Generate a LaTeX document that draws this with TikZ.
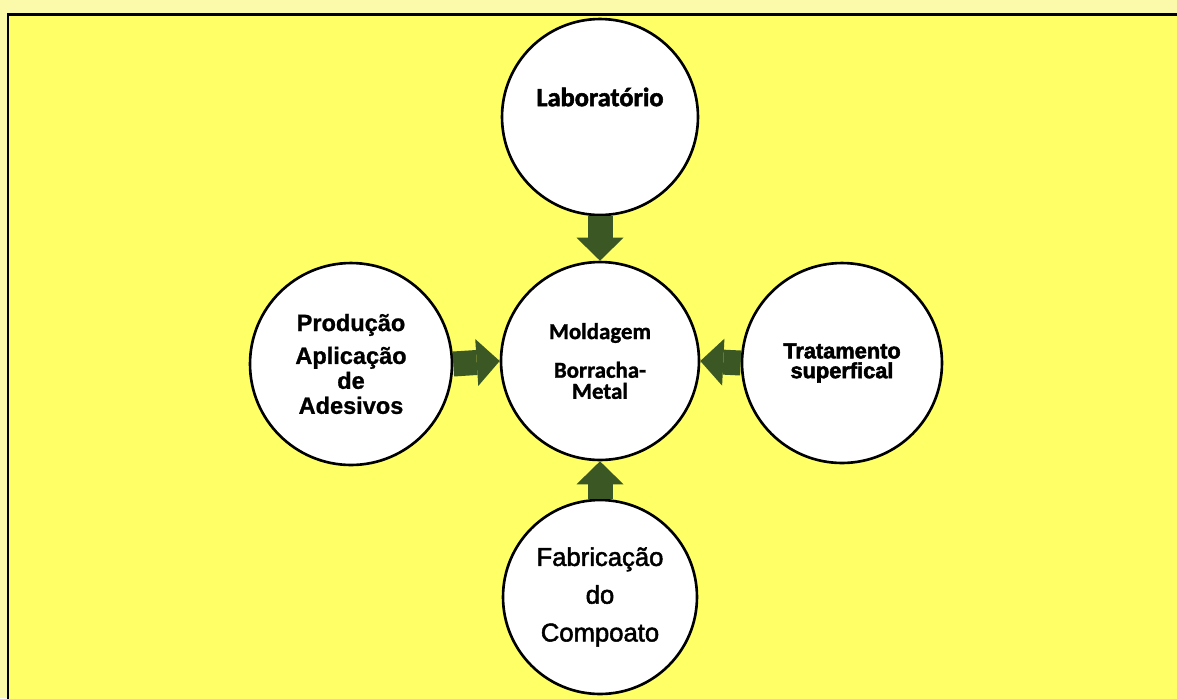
\documentclass[tikz,border=0pt]{standalone}
\usepackage{fontspec}
\setmainfont{Liberation Sans}
\newfontfamily\calibri{Carlito}[BoldFeatures={FakeBold=1.2}]
\newfontfamily\calibripesada{Carlito}[BoldFeatures={FakeBold=2}]
\newfontfamily\arialgrossa{Liberation Sans}[BoldFeatures={FakeBold=1}]
\newfontfamily\arialpesada{Liberation Sans}[BoldFeatures={FakeBold=2.4}]
\newfontfamily\arialmedia{Liberation Sans}[FakeBold=2]
\usetikzlibrary{arrows.meta}
\definecolor{fundo}{RGB}{255,255,102}
\definecolor{margem}{RGB}{250,250,170}
\definecolor{verde}{RGB}{59,87,36}
\begin{document}
\begin{tikzpicture}[x=0.02cm,y=-0.02cm,
        circulo/.style={circle,draw=black,line width=1.5pt,fill=white,inner sep=0pt,align=center},
        setagrossa/.style={draw=verde,line width=0.5cm,
            -{Triangle[width=0.94cm,length=0.46cm,line width=0pt,fill=verde]}}]
                \useasboundingbox (0,0) rectangle (1177,698);
                \fill[margem] (0,0) rectangle (1177,698);
                \filldraw[fill=fundo,draw=black,line width=1.4pt] (8,14.5) rectangle (1200,720);
                %===========================================
                \node[circulo,minimum size=3.92cm] (lab) at (600,117) {};
                \node[font=\calibripesada\bfseries\fontsize{15}{18}\selectfont] (labtxt) at ([yshift=0.4cm]lab.center) {Laborat\'orio};
                \node[circulo,minimum size=3.96cm,font=\calibri\bfseries\fontsize{13}{12}\selectfont] (mold) at (600,361)
                    {Moldagem\\[10pt]Borracha-\\Metal};
                \node[circulo,minimum size=4.04cm,font=\arialgrossa\bfseries\fontsize{13.4}{14.2}\selectfont] (prod) at (351,364)
                    {Produ\c{c}\~ao\\[4.5pt]Aplica\c{c}\~ao\\de\\Adesivos};
                \node[circulo,minimum size=4cm,font=\arialpesada\bfseries\fontsize{12.4}{11.3}\selectfont] (trat) at (842,363)
                    {Tratamento\\superfical};
                \node[circulo,minimum size=3.88cm,font=\arialmedia\fontsize{14.6}{21.5}\selectfont] (fab) at (600,597)
                    {Fabrica\c{c}\~ao\\do\\Compoato};
                %===========================================
                \draw[setagrossa] (lab) -- (mold);
                \draw[setagrossa] (prod.east) -- (mold.west);
                \draw[setagrossa] (trat.west) -- (mold.east);
                \draw[setagrossa] (fab) -- (mold);
            \end{tikzpicture}
\end{document}
